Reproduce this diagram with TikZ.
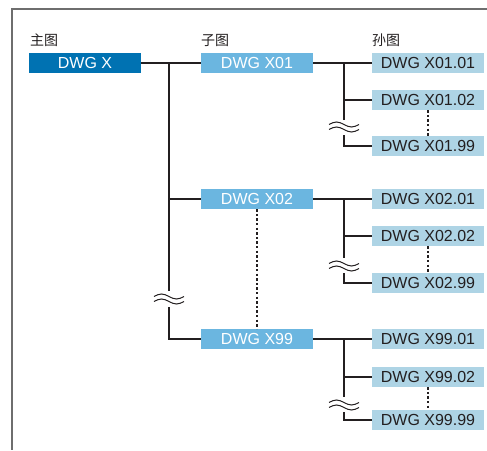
\documentclass[tikz,border=0pt]{standalone}
\usepackage{fontspec}
\setmainfont{Liberation Sans}
\newfontfamily\cjk{Noto Sans CJK SC}
\usepackage{tikz}
\usetikzlibrary{positioning}
\definecolor{mainblue}{RGB}{0,114,178}
\definecolor{subblue}{RGB}{107,182,224}
\definecolor{paleblue}{RGB}{174,212,229}
\definecolor{inkline}{RGB}{35,31,32}
\definecolor{framegray}{RGB}{110,110,110}
\tikzset{
  mainbox/.style={fill=mainblue, text=white, minimum width=112pt, minimum height=20pt, inner sep=0pt, font=\fontsize{16}{16}\selectfont},
  subbox/.style={fill=subblue, text=white, minimum width=112pt, minimum height=20pt, inner sep=0pt, font=\fontsize{16}{16}\selectfont},
  leafbox/.style={fill=paleblue, text=inkline, minimum width=112pt, minimum height=20pt, inner sep=0pt, font=\fontsize{16}{16}\selectfont},
  headlabel/.style={anchor=west, inner sep=0pt, text=inkline, font=\cjk\fontsize{14}{14}\selectfont},
  link/.style={draw=inkline, line width=2.6pt},
  dotlink/.style={draw=inkline, line width=2.4pt, dash pattern=on 2.4pt off 2.2pt},
  frameline/.style={draw=framegray, line width=2pt},
  brk/.pic={
    \draw[inkline, line width=1pt] (-15,-2.5) sin (-7.5,-5) cos (0,-2.5) sin (7.5,0) cos (15,-2.5);
    \draw[inkline, line width=1pt] (-15,2.5) sin (-7.5,0) cos (0,2.5) sin (7.5,5) cos (15,2.5);
  }
}

\begin{document}
\begin{tikzpicture}[x=1pt, y=-1pt]
  \useasboundingbox (0,0) rectangle (487,450);
  \coordinate (fa) at (487,9);
  \coordinate (fb) at (12,450);
  \draw[frameline] (fa) -| (fb);

  % column heads
  \node[headlabel] (h1) at (30,40) {主图};
  \node[headlabel] (h2) at (201,40) {子图};
  \node[headlabel] (h3) at (372,40) {孙图};

  % main and child drawings
  \node[mainbox] (mx) at (85,63) {DWG X};
  \node[subbox] (x01) at (257,63) {DWG X01};
  \node[subbox] (x02) at (257,199) {DWG X02};
  \node[subbox] (x99) at (257,339) {DWG X99};

  % grandchild drawings
  \node[leafbox] (x0101) at (428,63) {DWG X01.01};
  \node[leafbox] (x0102) at (428,100) {DWG X01.02};
  \node[leafbox] (x0199) at (428,146) {DWG X01.99};
  \node[leafbox] (x0201) at (428,199) {DWG X02.01};
  \node[leafbox] (x0202) at (428,236) {DWG X02.02};
  \node[leafbox] (x0299) at (428,283) {DWG X02.99};
  \node[leafbox] (x9901) at (428,339) {DWG X99.01};
  \node[leafbox] (x9902) at (428,377) {DWG X99.02};
  \node[leafbox] (x9999) at (428,420) {DWG X99.99};

  % main trunk
  \coordinate (j0) at (169,63);
  \coordinate (b0) at (169,291);
  \coordinate (b1) at (169,307);
  \draw[link] (mx) -- (x01);
  \draw[link] (j0) -- (b0);
  \draw[link] (j0 |- x02) -- (x02);
  \draw[link] (b1) |- (x99);
  \pic at (169,299) {brk};
  \draw[dotlink] (x02) -- (x99);

  % X01 branch
  \coordinate (j1) at (344,63);
  \coordinate (c1) at (344,120);
  \coordinate (d1) at (344,135);
  \draw[link] (x01) -- (x0101);
  \draw[link] (j1) -- (c1);
  \draw[link] (j1 |- x0102) -- (x0102);
  \draw[link] (d1) |- (x0199);
  \pic at (344,127) {brk};
  \draw[dotlink] (x0102) -- (x0199);

  % X02 branch
  \coordinate (j2) at (344,199);
  \coordinate (c2) at (344,258);
  \coordinate (d2) at (344,273);
  \draw[link] (x02) -- (x0201);
  \draw[link] (j2) -- (c2);
  \draw[link] (j2 |- x0202) -- (x0202);
  \draw[link] (d2) |- (x0299);
  \pic at (344,266) {brk};
  \draw[dotlink] (x0202) -- (x0299);

  % X99 branch
  \coordinate (j3) at (344,339);
  \coordinate (c3) at (344,397);
  \coordinate (d3) at (344,412);
  \draw[link] (x99) -- (x9901);
  \draw[link] (j3) -- (c3);
  \draw[link] (j3 |- x9902) -- (x9902);
  \draw[link] (d3) |- (x9999);
  \pic at (344,405) {brk};
  \draw[dotlink] (x9902) -- (x9999);
\end{tikzpicture}
\end{document}
